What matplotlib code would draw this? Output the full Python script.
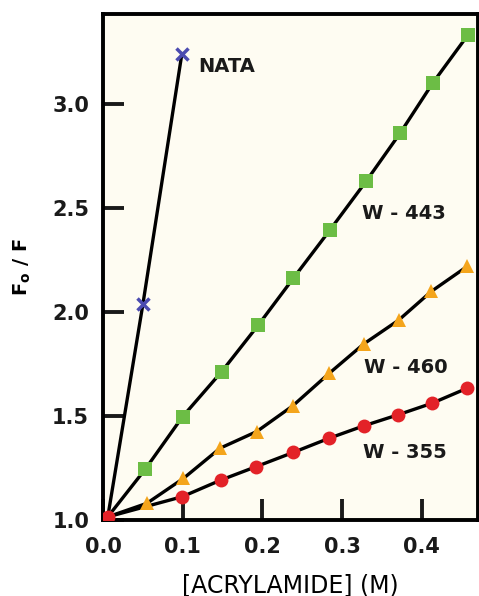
import matplotlib
matplotlib.use("Agg")
import matplotlib.pyplot as plt

# Stern-Volmer data
nata_x = [0.006, 0.05, 0.099]
nata_y = [1.015, 2.035, 3.24]

w443_x = [0.006, 0.053, 0.100, 0.149, 0.195, 0.239, 0.285, 0.330, 0.373, 0.414, 0.458]
w443_y = [1.015, 1.244, 1.497, 1.713, 1.937, 2.162, 2.394, 2.626, 2.859, 3.100, 3.330]

w460_x = [0.006, 0.055, 0.101, 0.147, 0.193, 0.238, 0.284, 0.327, 0.371, 0.412, 0.457]
w460_y = [1.015, 1.080, 1.200, 1.345, 1.425, 1.548, 1.705, 1.845, 1.960, 2.098, 2.218]

w355_x = [0.006, 0.0995, 0.148, 0.192, 0.239, 0.284, 0.327, 0.370, 0.413, 0.457]
w355_y = [1.015, 1.112, 1.192, 1.256, 1.325, 1.393, 1.452, 1.505, 1.561, 1.633]

xticks = [0.0, 0.1, 0.2, 0.3, 0.4]
yticks = [1.0, 1.5, 2.0, 2.5, 3.0]

fig = plt.figure(figsize=(4.79, 5.96), dpi=100)
ax = fig.add_axes([103 / 479, 76 / 596, 375 / 479, 506 / 596])
ax.set_facecolor("#fefcf2")

lw = 2.4
ax.plot(nata_x, nata_y, color="black", lw=lw, zorder=2)
ax.plot(nata_x[1:], nata_y[1:], "x", color="#4b4bb0", ms=9, mew=2.5, zorder=3)
ax.plot(w443_x, w443_y, color="black", lw=lw, zorder=2)
ax.plot(w443_x[1:], w443_y[1:], "s", color="#6cbd45", ms=10, mew=0, zorder=3)
ax.plot(w460_x, w460_y, color="black", lw=lw, zorder=2)
ax.plot(w460_x[1:], w460_y[1:], "^", color="#f4a51c", ms=10, mew=0, zorder=3)
ax.plot(w355_x, w355_y, color="black", lw=lw, zorder=2)
ax.plot(w355_x, w355_y, "o", color="#e32228", ms=10, mew=0, zorder=4)

ax.set_xlim(0, 0.4705)
ax.set_ylim(1.0, 3.43)
ax.set_xticks(xticks)
ax.set_yticks(yticks)
ax.set_xticklabels(["%.1f" % v for v in xticks])
ax.set_yticklabels(["%.1f" % v for v in yticks])
ax.tick_params(direction="in", length=15, width=2.8, labelsize=15, colors="#1a1a1a")
ax.tick_params(axis="x", pad=12)
ax.tick_params(axis="y", pad=10)
for lab in ax.get_xticklabels() + ax.get_yticklabels():
    lab.set_fontweight("semibold")
for s in ax.spines.values():
    s.set_linewidth(2.8)

txt = dict(fontsize=14, fontweight="semibold", color="#1a1a1a")
ax.text(0.119, 3.15, "NATA", **txt)
ax.text(0.325, 2.447, "W - 443", **txt)
ax.text(0.328, 1.707, "W - 460", **txt)
ax.text(0.326, 1.297, "W - 355", **txt)

ax.set_xlabel("[ACRYLAMIDE] (M)", fontsize=17, labelpad=12)
ax.set_ylabel("F$_\\mathregular{o}$ / F", fontsize=14, fontweight="bold", labelpad=14)

fig.savefig("out.png", dpi=100)
